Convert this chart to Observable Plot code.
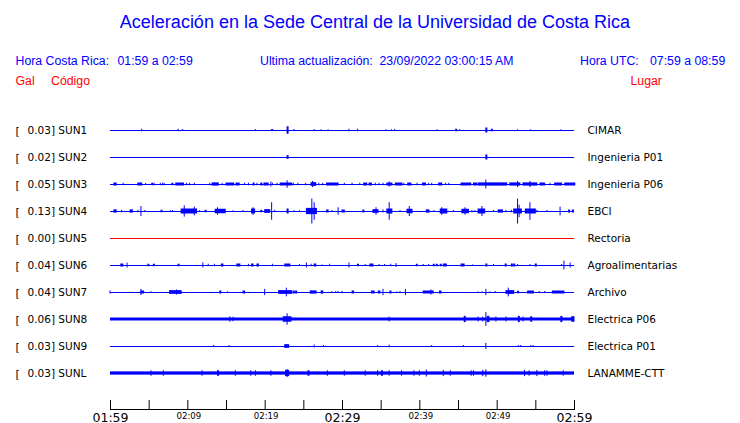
<!DOCTYPE html>
<html>
<head>
<meta charset="utf-8">
<script src="https://cdn.jsdelivr.net/npm/d3@7"></script>
<script src="https://cdn.jsdelivr.net/npm/@observablehq/plot@0.6"></script>
<style>
  html, body { margin: 0; padding: 0; background: #fff; }
  #wrap { position: relative; width: 740px; height: 423px; overflow: hidden; }
  #wrap svg { position: absolute; left: 0; top: 0; }
  .h { position: absolute; white-space: pre; font-family: "Liberation Sans", Arial, sans-serif; line-height: 1; font-size: 12.3px; }
  .blue { color: #0000ff; }
  .red { color: #ff0000; }
</style>
</head>
<body>
<div id="wrap">
  <div class="h blue" style="left:0;width:750px;text-align:center;top:13px;font-size:18px;">Aceleración en la Sede Central de la Universidad de Costa Rica</div>
  <div class="h blue" style="left:15.5px;top:55px;">Hora Costa Rica:</div>
  <div class="h blue" style="left:117.5px;top:55px;">01:59 a 02:59</div>
  <div class="h blue" style="left:260px;top:55px;">Ultima actualización:</div>
  <div class="h blue" style="left:379.5px;top:55px;">23/09/2022 03:00:15 AM</div>
  <div class="h blue" style="left:580px;top:55px;">Hora UTC:</div>
  <div class="h blue" style="left:650px;top:55px;">07:59 a 08:59</div>
  <div class="h red" style="left:15.5px;top:75px;">Gal</div>
  <div class="h red" style="left:51px;top:75px;">Código</div>
  <div class="h red" style="left:630.5px;top:75px;">Lugar</div>
</div>
<script>
// ---- data ----
const stations = ["SUN1","SUN2","SUN3","SUN4","SUN5","SUN6","SUN7","SUN8","SUN9","SUNL"];
const places = ["CIMAR","Ingenieria P01","Ingenieria P06","EBCI","Rectoria","Agroalimentarias","Archivo","Electrica P06","Electrica P01","LANAMME-CTT"];
const peaks = [0.03,0.02,0.05,0.13,0.00,0.04,0.04,0.06,0.03,0.03];
// background noise level (relative amplitude units)
const noise = [0,0,0,0,0,0,0,1.2,0,1.3];

// minutes after 01:59
const tickMinutes = [0,5,10,15,20,25,30,35,40,45,50,55,60];
const majorLabels = [[0,"01:59"],[30,"02:29"],[60,"02:59"]];
const minorLabels = [[10,"02:09"],[20,"02:19"],[40,"02:39"],[50,"02:49"]];

// events per station: [minute, relative amplitude, duration in minutes]
const sun1 = [[4.1,1,0],[8.8,1,0],[9.4,0.8,0],[18.8,0.7,0],[20.9,0.8,0.13],[22.9,3,0.13],[23.8,0.8,0],[26.4,0.8,0],[27.3,0.6,0],[28.2,0.6,0],[30.9,1,0],[32.0,1,0],[35.7,0.6,0],[36.4,0.6,0],[36.8,0.8,0],[42.3,0.6,0],[44.7,1,0.13],[45.2,0.6,0],[48.6,2,0.13],[49.3,1,0.13],[52.7,0.6,0],[54.4,0.6,0],[58.3,0.6,0]];
const sun2 = [[22.9,1.5,0.13],[48.6,2,0.13]];
const sun3 = [[0.5,1.2,0.3],[1.7,1,0],[3.6,1.2,0.5],[4.0,1,0],[4.6,0.8,0],[5.4,1,0.13],[5.7,1,0],[6.5,1,0],[6.8,1,0],[7.0,1,0],[8.0,1,0.13],[8.5,1.2,1.0],[9.9,1,0],[10.3,1,0],[10.9,1,0],[12.9,1,0],[13.2,1.3,0.8],[14.5,1,0],[15.0,1.2,1.0],[16.3,1.2,0.4],[17.4,1,0],[17.9,1,0],[18.5,1.2,0.13],[19.0,1,0],[19.5,1.2,0.13],[19.9,1.2,0.55],[20.8,2,0],[21.0,1,0],[21.6,1,0],[22.0,1.2,1.5],[22.9,3,0],[23.7,1,0],[24.3,1,0],[25.3,1,0],[26.0,1.5,0.6],[26.2,2.5,0],[27.0,1,0],[27.5,1,0],[28.0,1.2,1.5],[30.3,1,0],[31.3,1,0],[32.3,1,0],[32.8,1.2,0.4],[33.5,1.2,0.3],[34.3,1,0],[34.8,1,0],[35.3,1,0],[35.8,1.2,0.65],[36.1,2,0],[36.9,1.2,0.85],[38.0,1,0],[38.5,1.2,0.4],[39.7,1,0],[40.4,1.2,0.4],[41.2,1,0],[41.6,1,0],[42.5,1.2,0.4],[43.4,1,0],[43.8,1,0],[45.4,1.2,1.25],[47.0,1.2,0.4],[47.6,1.3,3.7],[48.6,3.5,0],[51.7,1.3,1.3],[52.7,2.5,0],[53.4,1.3,1.8],[54.3,2.5,0],[55.6,1.2,0.6],[56.9,1,0],[57.5,1.2,0.9],[58.8,1.2,1.3]];
const sun4 = [[0.5,1.3,0.3],[1.5,1,0],[2.6,1.3,0.3],[3.6,1,0],[4.0,4,0],[4.5,0.8,0],[6.6,1,0.13],[7.8,0.8,0],[8.1,0.8,0],[9.2,2,2.0],[9.6,4.5,0],[10.9,3.5,0],[11.6,0.8,0],[12.3,1,0.13],[13.6,1.8,1.3],[13.9,3,0],[14.6,1.2,0.2],[15.9,0.6,0],[17.2,0.8,0],[18.3,2,0.4],[18.5,3,0],[19.5,1,0.13],[20.0,1.5,0.65],[20.9,7,0],[21.3,1,0],[22.9,2,0.13],[23.8,0.7,0],[24.5,0.7,0],[25.4,2.5,1.3],[26.1,10,0],[26.4,7,0],[28.0,1.2,0.2],[28.7,0.8,0],[29.5,3,0],[30.0,1.2,0.3],[32.7,1.2,0.13],[34.0,1.5,0.65],[34.4,3,0],[35.3,1.2,0],[35.8,2,0.65],[36.1,7,0],[37.5,0.8,0],[38.4,1.8,0.65],[38.7,4,0],[40.9,1.3,0.35],[41.9,0.8,0],[42.7,2,0.85],[42.9,3,0],[44.4,0.8,0],[45.5,1.8,0.85],[45.9,3,0],[46.8,0.8,0],[47.2,0.8,0],[47.6,2,0.85],[48.1,4,0],[49.6,0.8,0],[50.2,1.3,0.55],[51.2,1,0],[51.9,1,0],[52.2,2,1.0],[52.7,10,0],[52.9,5,0],[53.7,2,1.3],[54.3,7,0],[55.2,1,0],[56.5,0.8,0],[58.2,3.5,0],[59.3,1.2,0.13],[59.8,1.2,0.13]];
const sun5 = [];
const sun6 = [[1.4,1.2,0.26],[2.2,2,0],[4.9,1,0.13],[5.6,1,0.13],[8.8,1,0.13],[12.0,2,0],[12.7,1,0],[13.5,1,0],[14.4,1.2,0.2],[16.4,1.2,0.4],[17.9,1,0],[18.3,1.2,0.2],[19.0,1.2,0.2],[21.0,1,0],[22.6,1.2,0.65],[24.5,0.8,0],[25.4,2,0],[26.0,1,0],[26.4,1.2,0.2],[27.4,0.5,0],[28.4,1,0],[30.9,2,0],[32.0,1,0.13],[33.0,0.8,0],[33.6,1.2,0.4],[34.8,0.8,0],[35.5,0.8,0],[36.3,1,0],[37.0,1.5,0],[39.6,1,0.13],[40.5,0.8,0],[41.2,0.8,0],[41.8,1,0.13],[42.2,1,0.13],[42.7,1,0.13],[43.1,1.2,0.4],[45.4,1.2,0.4],[46.9,0.5,0],[48.6,1.2,0.13],[49.6,0.8,0],[51.1,1.2,0.13],[51.9,1.2,0.13],[52.2,1.2,0.13],[52.7,0.8,0],[54.3,0.8,0],[55.0,1.2,0.13],[58.4,0.8,0],[58.7,3.5,0],[59.5,2,0]];
const sun7 = [[0.0,1.2,0],[4.0,1.2,0.35],[4.0,2.5,0],[5.3,0.6,0],[7.7,1.5,1.5],[8.6,2,0],[14.2,1.2,0.13],[15.2,0.6,0],[17.2,1.2,0.2],[20.0,2.5,0],[21.8,1.5,1.7],[22.8,3.5,0],[23.7,1.2,0.13],[24.0,1.2,0.13],[25.9,1.3,0.75],[27.3,1.3,0.2],[28.7,0.6,0],[29.2,0.8,0],[29.5,0.8,0],[30.0,1,0],[31.3,1.2,0.2],[33.8,1.2,0.35],[34.7,1.2,0.2],[35.3,2.5,0],[36.2,1.2,0.13],[37.1,0.5,0],[37.5,0.8,0],[38.2,2.5,0],[40.5,1.2,1.3],[41.5,2,0],[42.6,1.2,0.2],[47.6,0.5,0],[48.1,0.5,0],[48.6,2.5,0],[49.1,0.5,0],[49.8,0.8,0],[51.2,1.5,1.0],[51.5,3.5,0],[52.7,1,0.13],[54.0,1.2,0.75],[55.5,0.8,0],[56.2,0.8,0],[57.2,1.2,1.5]];
const sun8 = [[15.5,2.2,0],[15.9,1.8,0],[22.4,2.2,1.0],[22.9,4.5,0],[36.1,2,0],[45.8,2.5,0.13],[47.6,2,0],[48.2,2,0],[48.6,5.5,0],[48.8,2.5,0.2],[49.9,2,0],[51.2,2,0],[52.8,2.5,0.13],[53.4,2,0],[54.4,2.2,0.13],[58.3,2.5,0.13],[59.7,2.2,0.3]];
const sun9 = [[13.4,0.8,0],[15.4,0.8,0],[22.6,1.5,0.5],[26.4,1.2,0],[27.6,0.8,0],[34.6,0.8,0],[36.1,1,0],[41.6,0.8,0],[45.7,0.8,0],[48.6,2.5,0],[52.8,0.8,0],[53.1,0.8,0],[54.4,0.8,0],[54.7,0.8,0]];
const sunl = [[5.3,2.2,0],[6.9,2.2,0],[11.9,2.2,0],[13.9,2.2,0.13],[16.2,2.2,0],[18.2,2.2,0],[18.8,2.2,0],[20.8,2.2,0],[22.7,2.5,0.4],[22.9,3.2,0],[25.6,2.2,0.13],[28.1,2.2,0],[30.3,2.2,0],[33.0,2.2,0],[34.6,2.2,0],[35.1,2.2,0.13],[36.1,2.2,0],[37.7,2.2,0],[39.3,2.2,0],[40.0,2.2,0],[40.9,2.8,0],[43.1,2.5,0],[44.0,2.2,0],[46.7,2.2,0],[47.0,2.2,0],[48.2,2.5,0],[48.6,3,0],[53.6,2.5,0],[54.2,2.2,0],[55.2,2.5,0],[56.2,2.2,0],[56.5,2.2,0],[58.6,2.2,0]];
const eventsByStation = [sun1,sun2,sun3,sun4,sun5,sun6,sun7,sun8,sun9,sunl];

// ---- build tables ----
const BLUE = "#0000ff", RED = "#ff0000";
const AMP = 1.25 / 27; // relative amplitude unit -> row units
const rows = stations.map((s, i) => ({i, code: s, place: places[i], peak: peaks[i], noise: noise[i],
  color: peaks[i] === 0 ? RED : BLUE}));
const events = [];
eventsByStation.forEach((list, i) => list.forEach(([t, a, w]) =>
  events.push({i, t, a, w, color: rows[i].color})));

const plot = Plot.plot({
  width: 740, height: 423,
  marginLeft: 110, marginRight: 166, marginTop: 100, marginBottom: 14,
  x: {domain: [0, 60], axis: null},
  y: {domain: [0, 9], range: [130, 373], axis: null},
  style: {background: "transparent"},
  marks: [
    // baselines
    Plot.ruleY(rows, {y: "i", x1: 0, x2: 60, stroke: "color", strokeWidth: 1}),
    // noise band
    Plot.rect(rows.filter(d => d.noise > 0), {x1: 0, x2: 60,
      y1: d => d.i - d.noise * AMP, y2: d => d.i + d.noise * AMP, fill: "color"}),
    // events
    Plot.rect(events, {x1: "t", x2: d => d.t + d.w,
      y1: d => d.i - d.a * AMP, y2: d => d.i + d.a * AMP,
      fill: "color", insetLeft: -0.5, insetRight: -0.5}),
    // left labels
    Plot.text(rows, {y: "i", text: () => "[", frameAnchor: "left", dx: -95, textAnchor: "start",
      fontFamily: "DejaVu Sans", fontSize: 11, fill: "black", dy: 0.5}),
    Plot.text(rows, {y: "i", text: d => d.peak.toFixed(2) + "] " + d.code, frameAnchor: "left", dx: -83, textAnchor: "start",
      fontFamily: "DejaVu Sans", fontSize: 10.5, fill: "black", dy: 0.5}),
    // right labels
    Plot.text(rows, {y: "i", text: "place", frameAnchor: "right", dx: 13, textAnchor: "start",
      fontFamily: "DejaVu Sans", fontSize: 10.5, fill: "black", dy: 0.5}),
    // time axis
    Plot.frame({anchor: "bottom", stroke: "black"}),
    Plot.vector(tickMinutes, {x: d => d, frameAnchor: "bottom", length: 9, anchor: "start", rotate: 0,
      stroke: "black", strokeWidth: 1,
      shape: {draw(ctx, l) { ctx.moveTo(0, 0); ctx.lineTo(0, -l); }}}),
    Plot.text(majorLabels, {x: d => d[0], text: d => d[1], frameAnchor: "bottom", lineAnchor: "bottom", dy: 12,
      fontFamily: "DejaVu Sans", fontSize: 12.5, fill: "black"}),
    Plot.text(minorLabels, {x: d => d[0], text: d => d[1], frameAnchor: "bottom", lineAnchor: "bottom", dy: 9.7, dx: 1,
      fontFamily: "DejaVu Sans", fontSize: 8.6, fill: "black"})
  ]
});
document.getElementById("wrap").prepend(plot);
</script>
</body>
</html>
